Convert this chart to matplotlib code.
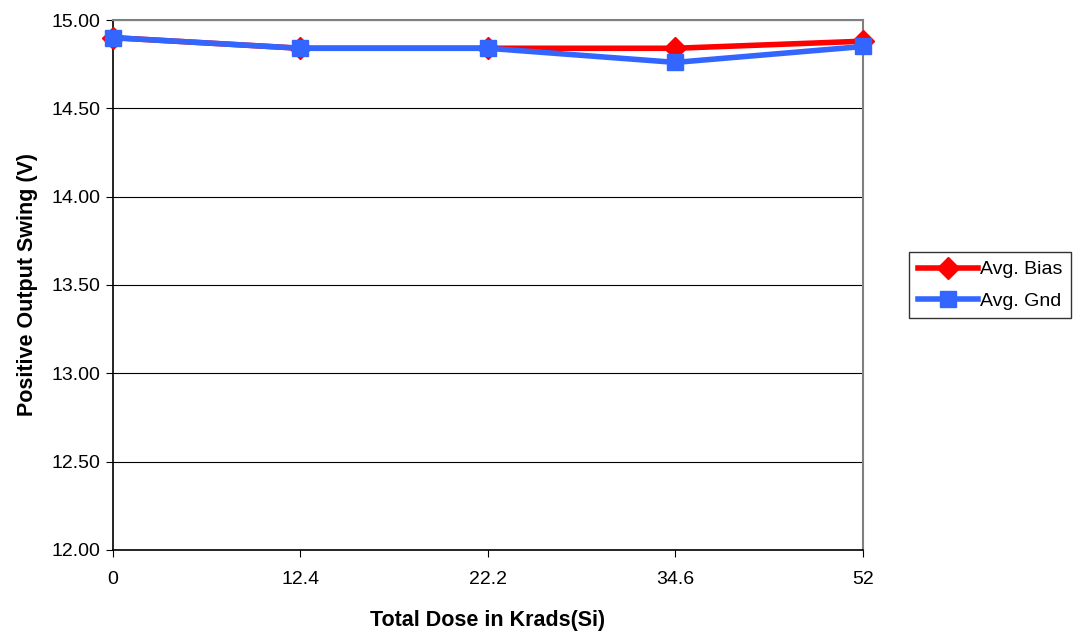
import numpy as np
import matplotlib.pyplot as plt

plt.rcParams['font.family'] = ['Liberation Sans', 'DejaVu Sans']

doses = ['0', '12.4', '22.2', '34.6', '52']
avg_bias = [14.90, 14.84, 14.84, 14.84, 14.88]
avg_gnd = [14.90, 14.84, 14.84, 14.76, 14.85]

fig = plt.figure(figsize=(10.76, 6.35), dpi=100)
ax = fig.add_axes([0.105, 0.134, 0.697, 0.8345])

x = np.arange(len(doses))
ax.plot(x, avg_bias, color='#ff0000', lw=4, marker='D', ms=11,
        label='Avg. Bias', clip_on=False, zorder=3)
ax.plot(x, avg_gnd, color='#3366ff', lw=4, marker='s', ms=11,
        label='Avg. Gnd', clip_on=False, zorder=4)

ax.set_xlim(0, len(doses) - 1)
ax.set_ylim(12.0, 15.0)
ax.set_xticks(x)
ax.set_xticklabels(doses)
yt = np.arange(12.0, 15.01, 0.5)
ax.set_yticks(yt)
ax.set_yticklabels(['%.2f' % v for v in yt])
ax.yaxis.grid(True, color='black', lw=0.8)
ax.set_axisbelow(True)
ax.tick_params(labelsize=14, direction='out', length=5, color='black')
ax.tick_params(axis='x', pad=10)
ax.tick_params(axis='y', pad=4)

for s in ['top', 'right']:
    ax.spines[s].set_color('#808080')
    ax.spines[s].set_linewidth(1.5)
for s in ['left', 'bottom']:
    ax.spines[s].set_color('black')
    ax.spines[s].set_linewidth(1.2)

ax.set_xlabel('Total Dose in Krads(Si)', fontsize=15.5, fontweight='bold', labelpad=16)
ax.set_ylabel('Positive Output Swing (V)', fontsize=15.5, fontweight='bold', labelpad=10)

leg = fig.legend(loc='upper left', bbox_to_anchor=(909 / 1076, 1 - 252 / 635),
                 fontsize=14, frameon=True, fancybox=False, edgecolor='black',
                 handlelength=3.1, borderpad=0.45, labelspacing=0.7, handletextpad=0.1,
                 borderaxespad=0)
leg.get_frame().set_linewidth(1.0)

fig.savefig('out.png', dpi=100)
